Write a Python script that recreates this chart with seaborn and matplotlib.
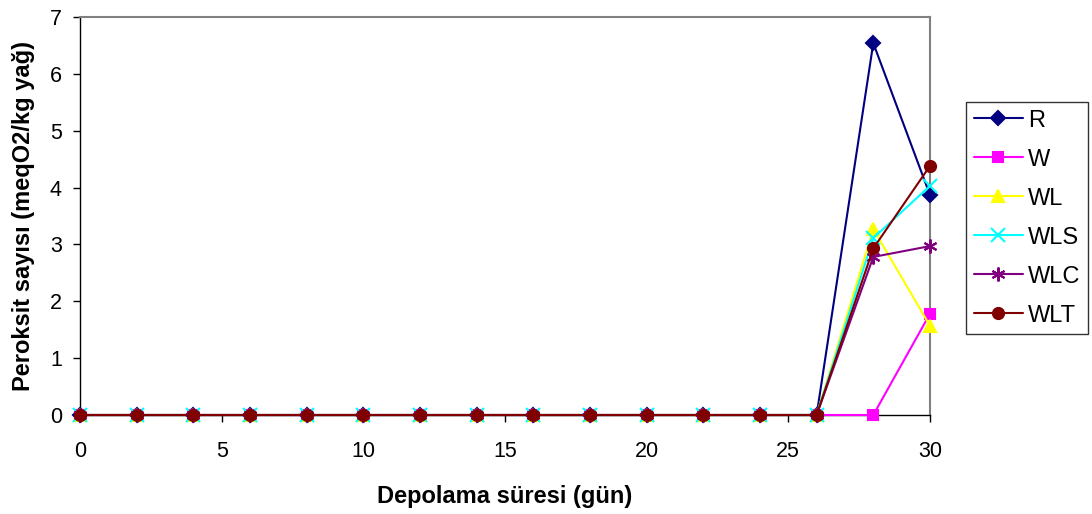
import numpy as np
import pandas as pd
import matplotlib
matplotlib.use("Agg")
import matplotlib.pyplot as plt
import seaborn as sns

# Storage time (days)
days = [0, 2, 4, 6, 8, 10, 12, 14, 16, 18, 20, 22, 24, 26, 28, 30]

# Peroxide values (meqO2/kg oil) per sample
R   = [0, 0, 0, 0, 0, 0, 0, 0, 0, 0, 0, 0, 0, 0, 6.54, 3.87]
W   = [0, 0, 0, 0, 0, 0, 0, 0, 0, 0, 0, 0, 0, 0, 0.0, 1.78]
WL  = [0, 0, 0, 0, 0, 0, 0, 0, 0, 0, 0, 0, 0, 0, 3.27, 1.57]
WLS = [0, 0, 0, 0, 0, 0, 0, 0, 0, 0, 0, 0, 0, 0, 3.11, 4.03]
WLC = [0, 0, 0, 0, 0, 0, 0, 0, 0, 0, 0, 0, 0, 0, 2.78, 2.97]
WLT = [0, 0, 0, 0, 0, 0, 0, 0, 0, 0, 0, 0, 0, 0, 2.93, 4.38]

series_names = ["R", "W", "WL", "WLS", "WLC", "WLT"]
series_vals = [R, W, WL, WLS, WLC, WLT]

colors = ["#000080", "#FF00FF", "#FFFF00", "#00FFFF", "#800080", "#800000"]
markers = ["D", "s", "^", "x", (6, 2, 0), "o"]
msizes = [7, 7, 9, 10, 10, 8]

df = pd.DataFrame({
    "day": np.tile(days, len(series_names)),
    "value": np.concatenate(series_vals),
    "sample": np.repeat(series_names, len(days)),
})

sns.set_style("white")
plt.rcParams["font.family"] = ["Liberation Sans", "DejaVu Sans"]
plt.rcParams.update({
    "text.color": "black",
    "axes.labelcolor": "black",
    "xtick.color": "black",
    "ytick.color": "black",
})

fig = plt.figure(figsize=(10.92, 5.14), dpi=100)
ax = fig.add_axes([0.0733, 0.1926, 0.7783, 0.7744])

for name, col, mk, ms in zip(series_names, colors, markers, msizes):
    sub = df[df["sample"] == name]
    sns.lineplot(data=sub, x="day", y="value", ax=ax, color=col, marker=mk,
                 markersize=ms, markeredgecolor=col, markeredgewidth=1.5,
                 linewidth=1.5, label=name, clip_on=False, zorder=3)

ax.set_xlim(0, 30)
ax.set_ylim(0, 7)
ax.set_xticks(range(0, 31, 5))
ax.set_yticks(range(0, 8))
ax.tick_params(axis="both", labelsize=15.5, direction="out", length=5,
               width=1, color="black", labelcolor="black", left=True, bottom=True)
ax.tick_params(axis="x", pad=14)
ax.tick_params(axis="y", pad=8)
ax.set_xlabel("Depolama süresi (gün)", fontsize=17, fontweight="bold",
              labelpad=16, color="black")
ax.set_ylabel("Peroksit sayısı (meqO2/kg yağ)", fontsize=17, fontweight="bold",
              labelpad=11, color="black")

for side in ["top", "right"]:
    ax.spines[side].set_color("#808080")
    ax.spines[side].set_linewidth(1.5)
for side in ["left", "bottom"]:
    ax.spines[side].set_color("black")
    ax.spines[side].set_linewidth(1)
for sp in ax.spines.values():
    sp.set_visible(True)

leg = ax.legend(loc="upper left", bbox_to_anchor=(966 / 1092, 1 - 102 / 514),
                bbox_transform=fig.transFigure, fontsize=17,
                frameon=True, fancybox=False, edgecolor="black",
                borderpad=0.32, labelspacing=0.72, handlelength=2.1,
                handletextpad=0.2, borderaxespad=0)
leg.get_frame().set_linewidth(1)
for t in leg.get_texts():
    t.set_color("black")

fig.savefig("out.png", dpi=100)
